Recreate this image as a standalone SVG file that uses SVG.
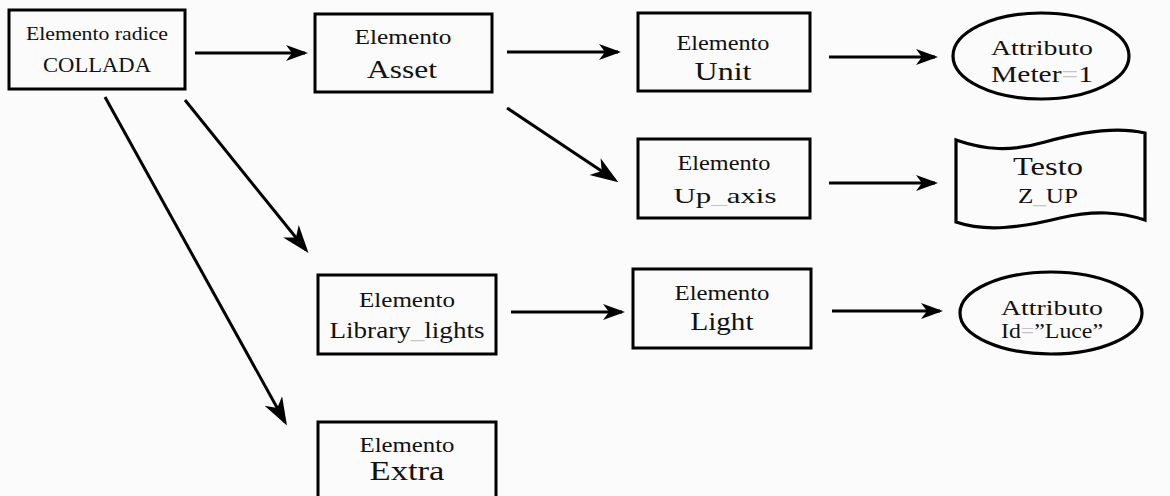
<svg xmlns="http://www.w3.org/2000/svg" width="1170" height="496" viewBox="0 0 1170 496">
  <style>
    .box { fill: none; stroke: #000; stroke-width: 3; }
    .shape { fill: none; stroke: #000; stroke-width: 3.2; }
    text { font-family: "Liberation Serif", "Times New Roman", serif; fill: #111; text-anchor: middle; }
    .faint { fill: #c4c4c4; }
    .link { stroke: #000; stroke-width: 3; fill: none; marker-end: url(#head); }
    .link.big { marker-end: url(#head-lg); }
  </style>
  <defs>
    <marker id="head" markerUnits="userSpaceOnUse" markerWidth="24" markerHeight="18" refX="19" refY="8" orient="auto">
      <path d="M0,0 L22,8 L0,16 L6,8 Z" fill="#000"/>
    </marker>
    <marker id="head-lg" markerUnits="userSpaceOnUse" markerWidth="30" markerHeight="22" refX="24" refY="10" orient="auto">
      <path d="M0,0 L28,10 L0,20 L8,10 Z" fill="#000"/>
    </marker>
  </defs>

  <rect width="1170" height="496" fill="#fbfbfb"/>

  <!-- connectors -->
  <g id="connectors">
    <line class="link" x1="195" y1="53" x2="305" y2="53"/>
    <line class="link" x1="507" y1="52" x2="618" y2="52"/>
    <line class="link big" x1="507" y1="108" x2="615" y2="180"/>
    <line class="link" x1="829" y1="57" x2="935" y2="57"/>
    <line class="link" x1="829" y1="183" x2="935" y2="183"/>
    <line class="link big" x1="185" y1="100" x2="306" y2="250"/>
    <line class="link big" x1="105" y1="97" x2="285" y2="422"/>
    <line class="link" x1="511" y1="312" x2="622" y2="312"/>
    <line class="link" x1="832" y1="311" x2="940" y2="311"/>
  </g>

  <!-- root element -->
  <g id="root">
    <rect class="box" x="9" y="10" width="176" height="79"/>
    <text x="97" y="40" font-size="19" textLength="142" lengthAdjust="spacingAndGlyphs">Elemento radice</text>
    <text x="97" y="72" font-size="22" textLength="108" lengthAdjust="spacingAndGlyphs">COLLADA</text>
  </g>

  <g id="asset">
    <rect class="box" x="315" y="14" width="177" height="78"/>
    <text x="403" y="44" font-size="20" textLength="97" lengthAdjust="spacingAndGlyphs">Elemento</text>
    <text x="402" y="78" font-size="26" textLength="70" lengthAdjust="spacingAndGlyphs">Asset</text>
  </g>

  <g id="unit">
    <rect class="box" x="638" y="13" width="172" height="78"/>
    <text x="723" y="50" font-size="20" textLength="93" lengthAdjust="spacingAndGlyphs">Elemento</text>
    <text x="723" y="80" font-size="26" textLength="57" lengthAdjust="spacingAndGlyphs">Unit</text>
  </g>

  <g id="attr-meter">
    <ellipse class="shape" cx="1041" cy="56" rx="88" ry="43"/>
    <text x="1042" y="55" font-size="20" textLength="102" lengthAdjust="spacingAndGlyphs">Attributo</text>
    <text x="1042" y="82" font-size="23" textLength="102" lengthAdjust="spacingAndGlyphs">Meter<tspan class="faint">=</tspan>1</text>
  </g>

  <g id="up-axis">
    <rect class="box" x="638" y="139" width="172" height="79"/>
    <text x="724" y="170" font-size="20" textLength="93" lengthAdjust="spacingAndGlyphs">Elemento</text>
    <text x="725" y="203" font-size="22" textLength="103" lengthAdjust="spacingAndGlyphs">Up<tspan class="faint">_</tspan>axis</text>
  </g>

  <g id="text-zup">
    <path class="shape" d="M956,140 C985,150 1010,152 1045,142 C1080,132 1115,126 1145,133 L1145,220 C1120,212 1095,210 1060,218 C1020,228 985,232 956,222 Z"/>
    <text x="1048" y="175" font-size="26" textLength="70" lengthAdjust="spacingAndGlyphs">Testo</text>
    <text x="1048" y="203" font-size="21" textLength="60" lengthAdjust="spacingAndGlyphs">Z<tspan class="faint">_</tspan>UP</text>
  </g>

  <g id="library-lights">
    <rect class="box" x="318" y="275" width="178" height="79"/>
    <text x="407" y="307" font-size="20" textLength="96" lengthAdjust="spacingAndGlyphs">Elemento</text>
    <text x="407" y="338" font-size="24" textLength="155" lengthAdjust="spacingAndGlyphs">Library<tspan class="faint">_</tspan>lights</text>
  </g>

  <g id="light">
    <rect class="box" x="633" y="269" width="178" height="79"/>
    <text x="722" y="300" font-size="20" textLength="95" lengthAdjust="spacingAndGlyphs">Elemento</text>
    <text x="722" y="330" font-size="26" textLength="63" lengthAdjust="spacingAndGlyphs">Light</text>
  </g>

  <g id="attr-id">
    <ellipse class="shape" cx="1051" cy="313" rx="91" ry="41"/>
    <text x="1052" y="315" font-size="20" textLength="102" lengthAdjust="spacingAndGlyphs">Attributo</text>
    <text x="1052" y="338" font-size="21" textLength="102" lengthAdjust="spacingAndGlyphs">Id<tspan class="faint">=</tspan>”Luce”</text>
  </g>

  <g id="extra">
    <rect class="box" x="318" y="422" width="178" height="90"/>
    <text x="407" y="452" font-size="20" textLength="95" lengthAdjust="spacingAndGlyphs">Elemento</text>
    <text x="407" y="480" font-size="27" textLength="75" lengthAdjust="spacingAndGlyphs">Extra</text>
  </g>
</svg>
